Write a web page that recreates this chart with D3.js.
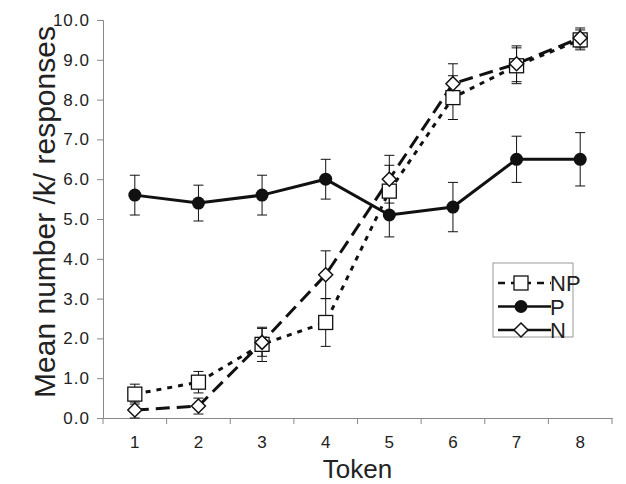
<!DOCTYPE html>
<html>
<head>
<meta charset="utf-8">
<script src="https://cdn.jsdelivr.net/npm/d3@7"></script>
<style>
    body { margin: 0; background: #fff; }
    text { font-family: "Liberation Sans", Arial, sans-serif; fill: #222; }
</style>
</head>
<body>
<div id="chart"></div>
<script>
"use strict";

const tokens = ["1", "2", "3", "4", "5", "6", "7", "8"];
const npValues = [0.6, 0.9, 1.85, 2.4, 5.7, 8.05, 8.85, 9.5];
const npErrors = [0.25, 0.27, 0.43, 0.6, 0.65, 0.55, 0.45, 0.25];
const pValues = [5.6, 5.4, 5.6, 6.0, 5.1, 5.3, 6.5, 6.5];
const pErrors = [0.5, 0.45, 0.5, 0.5, 0.55, 0.62, 0.58, 0.67];
const nValues = [0.2, 0.3, 1.9, 3.6, 6.0, 8.4, 8.9, 9.55];
const nErrors = [0.2, 0.2, 0.35, 0.6, 0.6, 0.5, 0.45, 0.25];
const yTicks = [0, 1, 2, 3, 4, 5, 6, 7, 8, 9, 10];

(function () {
    const width = 626;
    const height = 484;
    const margin = { left: 103, right: 14, top: 20, bottom: 66 };

    const svg = d3.select("#chart")
        .append("svg")
        .attr("width", width)
        .attr("height", height);

    const x = d3.scaleBand()
        .domain(tokens)
        .range([margin.left, width - margin.right]);

    const y = d3.scaleLinear()
        .domain([0, 10])
        .range([height - margin.bottom, margin.top]);

    const cx = t => x(t) + x.bandwidth() / 2;

    // axes
    const yAxis = svg.append("g")
        .attr("transform", `translate(${margin.left},0)`)
        .call(d3.axisLeft(y).tickValues(yTicks).tickFormat(d3.format(".1f")).tickSize(6).tickPadding(7));
    yAxis.selectAll("text").style("font-size", "17px").style("letter-spacing", "1px");

    const xAxis = svg.append("g")
        .attr("transform", `translate(0,${height - margin.bottom})`)
        .call(d3.axisBottom(x).tickSize(0).tickPadding(18));
    xAxis.selectAll("text").style("font-size", "17px");

    // ticks at band boundaries
    const bounds = tokens.map(t => x(t)).concat([x.range()[1]]);
    xAxis.selectAll(".bound")
        .data(bounds)
        .enter()
        .append("line")
        .attr("class", "bound")
        .attr("x1", d => d)
        .attr("x2", d => d)
        .attr("y1", 0)
        .attr("y2", 6)
        .attr("stroke", "#888");

    svg.selectAll(".domain, .tick line").attr("stroke", "#888");

    svg.append("text")
        .attr("x", (margin.left + width - margin.right) / 2)
        .attr("y", 478)
        .attr("text-anchor", "middle")
        .style("font-size", "26px")
        .text("Token");

    svg.append("text")
        .attr("transform", `translate(55,212) rotate(-90)`)
        .attr("text-anchor", "middle")
        .style("font-size", "30px")
        .text("Mean number /k/ responses");

    const series = [
        { name: "NP", values: npValues, errors: npErrors, dash: "5,6", marker: "square" },
        { name: "P", values: pValues, errors: pErrors, dash: null, marker: "circle" },
        { name: "N", values: nValues, errors: nErrors, dash: "14,7", marker: "diamond" }
    ];

    const line = d3.line()
        .x((d, i) => cx(tokens[i]))
        .y(d => y(d));

    function drawMarker(g, type) {
        if (type === "square") {
            g.append("rect").attr("x", -7).attr("y", -7).attr("width", 14).attr("height", 14)
                .attr("fill", "#fff").attr("stroke", "#111").attr("stroke-width", 1.3);
        } else if (type === "circle") {
            g.append("circle").attr("r", 6.5).attr("fill", "#111");
        } else {
            g.append("path").attr("d", "M0,-7L7,0L0,7L-7,0Z")
                .attr("fill", "#fff").attr("stroke", "#111").attr("stroke-width", 1.5);
        }
    }

    // error bars
    for (let s of series) {
        const eb = svg.append("g");
        s.values.forEach((v, i) => {
            const xc = cx(tokens[i]);
            const lo = y(v - s.errors[i]);
            const hi = y(v + s.errors[i]);
            eb.append("line").attr("x1", xc).attr("x2", xc).attr("y1", lo).attr("y2", hi)
                .attr("stroke", "#111").attr("stroke-width", 1);
            eb.append("line").attr("x1", xc - 5).attr("x2", xc + 5).attr("y1", lo).attr("y2", lo)
                .attr("stroke", "#111").attr("stroke-width", 1);
            eb.append("line").attr("x1", xc - 5).attr("x2", xc + 5).attr("y1", hi).attr("y2", hi)
                .attr("stroke", "#111").attr("stroke-width", 1);
        });
    }

    // lines and markers
    for (let s of series) {
        svg.append("path")
            .datum(s.values)
            .attr("d", line)
            .attr("fill", "none")
            .attr("stroke", "#111")
            .attr("stroke-width", 3)
            .attr("stroke-dasharray", s.dash);
    }
    for (let s of series) {
        s.values.forEach((v, i) => {
            const g = svg.append("g").attr("transform", `translate(${cx(tokens[i])},${y(v)})`);
            drawMarker(g, s.marker);
        });
    }

    // legend: only NP is drawn dashed there
    const legend = svg.append("g").attr("transform", "translate(493,263)");
    legend.append("rect").attr("width", 80).attr("height", 74)
        .attr("fill", "#fff").attr("stroke", "#999").attr("stroke-width", 1);
    series.forEach((s, i) => {
        const ly = 20 + i * 23.5;
        legend.append("line").attr("x1", 5).attr("x2", 58).attr("y1", ly).attr("y2", ly)
            .attr("stroke", "#111").attr("stroke-width", 2.5)
            .attr("stroke-dasharray", s.name === "NP" ? "7,6" : null);
        const g = legend.append("g").attr("transform", `translate(28,${ly})`);
        drawMarker(g, s.marker);
        legend.append("text").attr("x", 57).attr("y", ly + 8)
            .style("font-size", "22px").text(s.name);
    });
})();
</script>
</body>
</html>
